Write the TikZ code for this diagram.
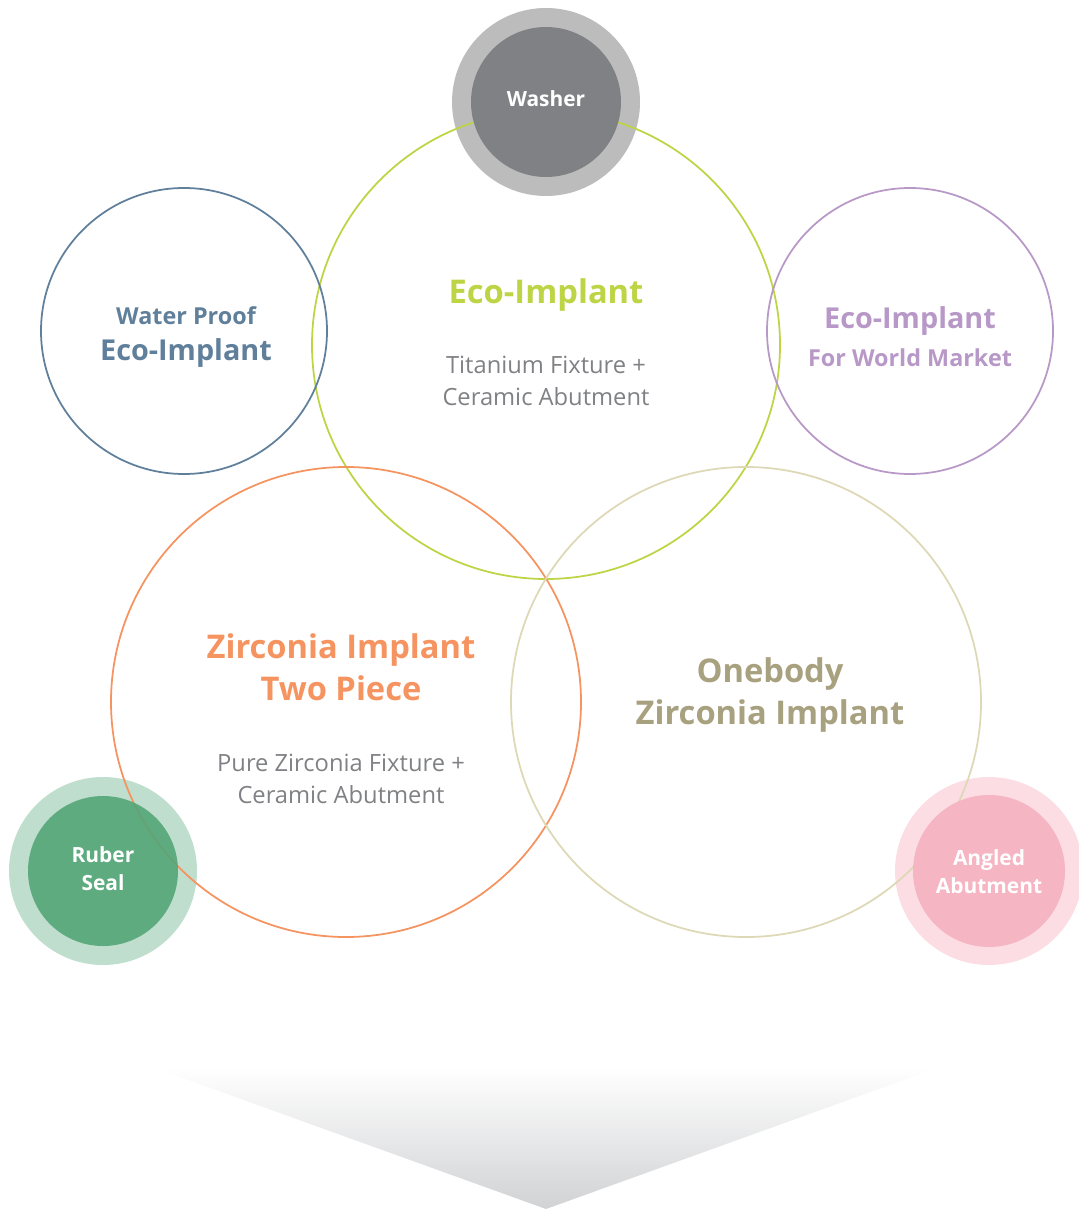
\documentclass[tikz,border=0pt]{standalone}
\usepackage{fontspec}
\setmainfont{Open Sans}
\usetikzlibrary{positioning}
\definecolor{washerring}{HTML}{BCBCBD}
\definecolor{washerfill}{HTML}{808184}
\definecolor{ecogreen}{HTML}{BDD445}
\definecolor{waterblue}{HTML}{5F7F9B}
\definecolor{worldpurple}{HTML}{B798C7}
\definecolor{zirconorange}{HTML}{F59460}
\definecolor{onebodyline}{HTML}{DDD8B6}
\definecolor{onebodytext}{HTML}{A8A17F}
\definecolor{sealring}{HTML}{BFDECD}
\definecolor{sealfill}{HTML}{52A476}
\definecolor{angledring}{HTML}{FBDDE3}
\definecolor{angledfill}{HTML}{F6B5C3}
\definecolor{subgray}{HTML}{808184}
\definecolor{chevgray}{HTML}{D1D2D4}
\tikzset{
  ring/.style={line width=1pt},
  bigtitle/.style={font=\bfseries\fontsize{18.6}{24.2}\selectfont, align=center},
  midtitle/.style={font=\bfseries\fontsize{16.4}{20}\selectfont, align=center},
  smalltitle/.style={font=\bfseries\fontsize{13.3}{16}\selectfont, align=center},
  subtext/.style={text=subgray, font=\fontsize{13.5}{18.1}\selectfont, align=center},
  badge/.style={text=white, font=\bfseries\fontsize{11.9}{15.9}\selectfont, align=center}
}
\begin{document}
\begin{tikzpicture}[x=0.02cm,y=-0.02cm]
\useasboundingbox (0,0) rectangle (1078,1209);
% arrow at the bottom
\shade[top color=white, bottom color=chevgray] (155,1068) -- (937,1068) -- (546,1209) -- cycle;
% outer rings of the small circles
\fill[washerring] (546,102) circle (94);
\fill[sealring] (103,871) circle (94);
\fill[angledring] (989,871) circle (94);
% the big circles
\draw[ring,ecogreen] (546,345) circle (234);
\draw[ring,waterblue] (184,331) circle (143);
\draw[ring,worldpurple] (910,331) circle (143);
\draw[ring,zirconorange] (346,702) circle (235);
\draw[ring,onebodyline] (746,702) circle (235);
% inner discs
\fill[washerfill] (546,102) circle (75);
\fill[sealfill,fill opacity=0.88] (103,871) circle (75);
\fill[angledfill] (989,871) circle (76);
% labels
\node[badge] (washer) at (546,99) {Washer};
\node[badge] (seal) at (103,869) {Ruber\\Seal};
\node[badge] (angled) at (989,872) {Angled\\Abutment};
\node[bigtitle,text=ecogreen] (eco) at (546,295) {Eco-Implant};
\node[subtext] (ecosub) at (546,381) {Titanium Fixture +\\Ceramic Abutment};
\node[smalltitle,text=waterblue] (waterproof) at (186,316) {Water Proof};
\node[midtitle,text=waterblue] (watereco) at (186,353) {Eco-Implant};
\node[midtitle,text=worldpurple] (worldeco) at (910,321) {Eco-Implant};
\node[smalltitle,text=worldpurple] (world) at (910,358) {For World Market};
\node[bigtitle,text=zirconorange] (twopiece) at (341,667) {Zirconia Implant\\Two Piece};
\node[subtext] (twosub) at (341,779) {Pure Zirconia Fixture +\\Ceramic Abutment};
\node[bigtitle,text=onebodytext] (onebody) at (770,695) {Onebody\\Zirconia Implant};
\end{tikzpicture}
\end{document}
